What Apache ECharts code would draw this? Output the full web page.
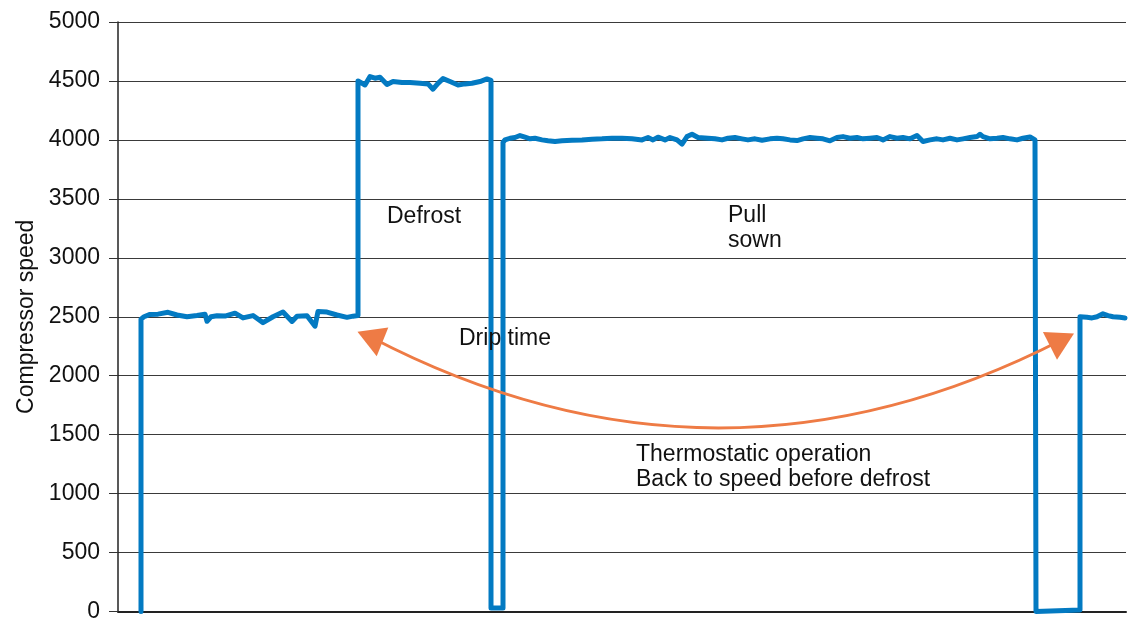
<!DOCTYPE html>
<html>
<head>
<meta charset="utf-8">
<script src="https://cdn.jsdelivr.net/npm/echarts@6/dist/echarts.min.js"></script>
<style>
  html, body { margin: 0; padding: 0; background: #fff; }
  #chart { width: 1135px; height: 623px; }
</style>
</head>
<body>
<div id="chart"></div>
<script>
// compressor speed as [time, speed] pairs
const runBefore = [
  [23, 0], [23, 2480], [26, 2500], [32, 2520], [40, 2522], [50, 2538], [59, 2515],
  [69, 2500], [79, 2510], [87, 2522], [89, 2462], [93, 2500], [99, 2508], [107, 2506],
  [117, 2530], [125, 2490], [135, 2510], [145, 2450], [155, 2500], [165, 2540],
  [174, 2460], [179, 2505], [189, 2508], [197, 2420], [200, 2545], [209, 2540],
  [219, 2515], [229, 2495], [235, 2505], [240, 2510]
]
const defrost = [
  [240, 4500], [242, 4495], [247, 4466], [252, 4537], [257, 4523], [262, 4531],
  [269, 4470], [275, 4495], [284, 4486], [292, 4486], [302, 4480], [310, 4475],
  [315, 4430], [320, 4480], [325, 4520], [332, 4495], [340, 4466], [347, 4475],
  [354, 4480], [362, 4495], [369, 4517], [373, 4505]
]
const dripTime = [[373, 30], [385, 30]]
const pullDown = [
  [385, 3980], [387, 4000], [392, 4014], [397, 4020], [402, 4037], [407, 4023],
  [412, 4009], [417, 4014], [424, 4000], [430, 3992], [437, 3986], [444, 3992],
  [454, 3997], [464, 4000], [474, 4006], [484, 4009], [494, 4014], [504, 4014],
  [514, 4009], [524, 4000], [530, 4020], [535, 4000], [540, 4023], [547, 4000],
  [552, 4020], [559, 4000], [564, 3964], [569, 4028], [574, 4048], [580, 4020],
  [590, 4014], [597, 4009], [604, 4000], [610, 4014], [617, 4020], [624, 4009],
  [630, 4000], [637, 4009], [644, 3997], [652, 4009], [659, 4014], [665, 4009],
  [672, 4000], [679, 3994], [685, 4009], [692, 4020], [699, 4014], [705, 4009],
  [712, 3992], [719, 4020], [725, 4028], [732, 4014], [739, 4020], [745, 4009],
  [752, 4014], [759, 4020], [765, 4000], [772, 4028], [779, 4014], [785, 4020],
  [792, 4009], [799, 4037], [805, 3986], [812, 4000], [819, 4009], [825, 4000],
  [832, 4014], [839, 4000], [845, 4009], [852, 4020], [859, 4028], [862, 4048],
  [865, 4028], [872, 4009], [879, 4014], [885, 4020], [892, 4009], [899, 4000],
  [905, 4014], [912, 4025], [917, 4000], [918, 4000]
]
const offTime = [[918, 0], [962, 12]]
const runAfter = [
  [962, 2500], [964, 2505], [969, 2495], [974, 2490], [979, 2500], [985, 2525],
  [990, 2510], [995, 2500], [1002, 2495], [1007, 2490]
]
// double arrow: back to the speed before defrost (ends at the arrowhead centres)
const arrowStart = [252, 2330]
const arrowEnd = [944, 2305]
const arrowHeadAngle = [68, -63] // degrees, counterclockwise from pointing up
const yTicks = [0, 500, 1000, 1500, 2000, 2500, 3000, 3500, 4000, 4500, 5000]

const font = 'Liberation Sans, Arial, sans-serif'
const orange = '#ee7b45'
const speedData = [].concat(runBefore, defrost, dripTime, pullDown, offTime, runAfter)

const chart = echarts.init(document.getElementById('chart'))
chart.setOption({
  animation: false,
  grid: { left: 118, right: 9, top: 22, bottom: 11, containLabel: false },
  xAxis: {
    type: 'value',
    min: 0,
    max: 1008,
    axisLine: { show: true, onZero: false, lineStyle: { color: '#222', width: 2 } },
    axisTick: { show: false },
    axisLabel: { show: false },
    splitLine: { show: false }
  },
  yAxis: {
    type: 'value',
    min: yTicks[0],
    max: yTicks[yTicks.length - 1],
    interval: 500,
    name: 'Compressor speed',
    nameLocation: 'middle',
    nameGap: 80,
    nameTextStyle: { fontFamily: font, fontSize: 23, color: '#111' },
    axisLine: { show: true, lineStyle: { color: '#222', width: 1.5 } },
    axisTick: { show: true, length: 9, lineStyle: { color: '#333' } },
    axisLabel: {
      margin: 18,
      fontFamily: font,
      fontSize: 23,
      color: '#111',
      formatter: v => String(v)
    },
    splitLine: { show: true, lineStyle: { color: '#3a3a3a', width: 1 } }
  },
  series: [
    {
      name: 'speed',
      type: 'line',
      data: speedData,
      showSymbol: false,
      symbol: 'none',
      lineStyle: { color: '#037ac2', width: 5, join: 'round', cap: 'round' },
      z: 3
    },
    {
      type: 'lines',
      coordinateSystem: 'cartesian2d',
      symbol: ['none', 'none'],
      lineStyle: { color: orange, width: 3, curveness: -0.259, opacity: 1 },
      data: [{ coords: [arrowStart, arrowEnd] }],
      z: 4
    },
    {
      // arrowheads
      type: 'scatter',
      symbol: 'triangle',
      symbolSize: [31, 27],
      itemStyle: { color: orange, opacity: 1 },
      data: [
        { value: arrowStart, symbolRotate: arrowHeadAngle[0] },
        { value: arrowEnd, symbolRotate: arrowHeadAngle[1] }
      ],
      z: 5
    }
  ],
  graphic: [
    { type: 'text', z: 10, x: 387, y: 217, style: { text: 'Defrost', font: '23px ' + font, fill: '#111', verticalAlign: 'middle' } },
    { type: 'text', z: 10, x: 728, y: 203.5, style: { text: 'Pull\nsown', font: '23px ' + font, lineHeight: 25, fill: '#111', verticalAlign: 'top' } },
    { type: 'text', z: 10, x: 459, y: 339, style: { text: 'Drip time', font: '23px ' + font, fill: '#111', verticalAlign: 'middle' } },
    { type: 'text', z: 10, x: 636, y: 442.5, style: { text: 'Thermostatic operation\nBack to speed before defrost', font: '23px ' + font, lineHeight: 25, fill: '#111', verticalAlign: 'top' } }
  ]
})
</script>
</body>
</html>
